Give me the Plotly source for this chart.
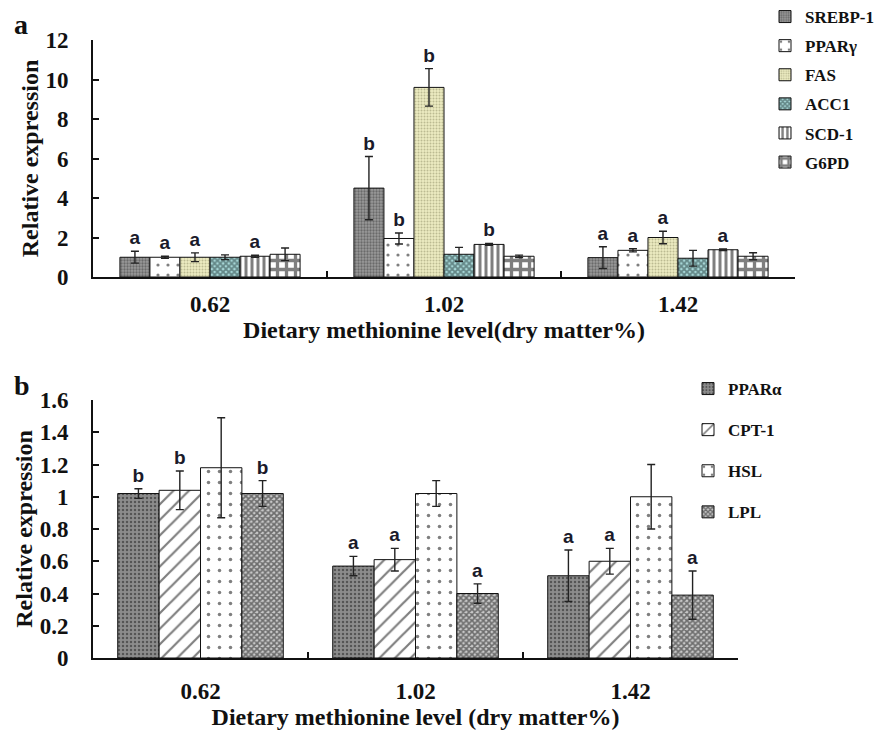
import plotly.graph_objects as go
from plotly.subplots import make_subplots

# ---------------- data ----------------
levels = ["0.62", "1.02", "1.42"]

# panel a
a_genes = ["SREBP-1", "PPARγ", "FAS", "ACC1", "SCD-1", "G6PD"]
a_means = {
    "SREBP-1": [1.0, 4.5, 0.98],
    "PPARγ":   [1.0, 1.95, 1.35],
    "FAS":     [1.0, 9.6, 2.0],
    "ACC1":    [1.0, 1.15, 0.95],
    "SCD-1":   [1.05, 1.65, 1.38],
    "G6PD":    [1.15, 1.05, 1.05],
}
a_errs = {
    "SREBP-1": [0.3, 1.6, 0.55],
    "PPARγ":   [0.05, 0.28, 0.08],
    "FAS":     [0.22, 0.95, 0.32],
    "ACC1":    [0.12, 0.35, 0.4],
    "SCD-1":   [0.05, 0.05, 0.04],
    "G6PD":    [0.32, 0.06, 0.18],
}
a_letters = {
    "SREBP-1": ["a", "b", "a"],
    "PPARγ":   ["a", "b", "a"],
    "FAS":     ["a", "b", "a"],
    "ACC1":    ["", "", ""],
    "SCD-1":   ["a", "b", "a"],
    "G6PD":    ["", "", ""],
}

# panel b
b_genes = ["PPARα", "CPT-1", "HSL", "LPL"]
b_means = {
    "PPARα": [1.02, 0.57, 0.51],
    "CPT-1": [1.04, 0.61, 0.60],
    "HSL":   [1.18, 1.02, 1.00],
    "LPL":   [1.02, 0.40, 0.39],
}
b_errs = {
    "PPARα": [0.03, 0.06, 0.16],
    "CPT-1": [0.12, 0.07, 0.08],
    "HSL":   [0.31, 0.08, 0.20],
    "LPL":   [0.08, 0.06, 0.15],
}
b_letters = {
    "PPARα": ["b", "a", "a"],
    "CPT-1": ["b", "a", "a"],
    "HSL":   ["", "", ""],
    "LPL":   ["b", "a", "a"],
}

# ---------------- styles ----------------
a_style = {
    "SREBP-1": dict(bgcolor="#9a9a9a", fgcolor="#3a3a3a", shape=".", size=3, solidity=0.45),
    "PPARγ":   dict(bgcolor="#ffffff", fgcolor="#000000", shape=".", size=10, solidity=0.08),
    "FAS":     dict(bgcolor="#ecebc2", fgcolor="#8c8b62", shape=".", size=3, solidity=0.35),
    "ACC1":    dict(bgcolor="#a8d8d8", fgcolor="#1f3636", shape="x", size=4, solidity=0.7),
    "SCD-1":   dict(bgcolor="#ffffff", fgcolor="#000000", shape="|", size=6, solidity=0.5),
    "G6PD":    dict(bgcolor="#ffffff", fgcolor="#000000", shape="+", size=9, solidity=0.6),
}
b_style = {
    "PPARα": dict(bgcolor="#8c8c8c", fgcolor="#1e1e1e", shape=".", size=4, solidity=0.3),
    "CPT-1": dict(bgcolor="#ffffff", fgcolor="#000000", shape="/", size=11, solidity=0.2),
    "HSL":   dict(bgcolor="#ffffff", fgcolor="#000000", shape=".", size=11, solidity=0.08),
    "LPL":   dict(bgcolor="#c8c8c8", fgcolor="#111111", shape="x", size=4, solidity=0.65),
}

SERIF = "Liberation Serif"
W, H = 888, 739
S = 8  # page body margin compensation

fig = make_subplots(rows=2, cols=1)

def add_panel(genes, means, errs, letters, styles, row, legend_name):
    for g in genes:
        st = styles[g]
        fig.add_trace(go.Bar(
            x=levels, y=means[g], name=g,
            offsetgroup=g, alignmentgroup="ag%d" % row,
            marker=dict(color=st["bgcolor"], line=dict(color="#111", width=1),
                        pattern=dict(shape=st["shape"], fgcolor=st["fgcolor"],
                                     bgcolor=st["bgcolor"], size=st["size"],
                                     solidity=st["solidity"], fillmode="overlay")),
            error_y=dict(type="data", array=errs[g], color="#222", thickness=1.4, width=4),
            legend=legend_name, legendgroup=g,
        ), row=row, col=1)
    for g in genes:
        tops = [m + e for m, e in zip(means[g], errs[g])]
        fig.add_trace(go.Bar(
            x=levels, y=tops, text=letters[g], textposition="outside",
            textfont=dict(family="Liberation Sans, Arial", size=19, color="#1a1a2a", weight="bold"),
            constraintext="none", cliponaxis=False,
            offsetgroup=g, alignmentgroup="ag%d" % row,
            marker=dict(color="rgba(0,0,0,0)", line=dict(width=0)),
            showlegend=False, hoverinfo="skip",
        ), row=row, col=1)

add_panel(a_genes, a_means, a_errs, a_letters, a_style, 1, "legend")
add_panel(b_genes, b_means, b_errs, b_letters, b_style, 2, "legend2")

axis_font = dict(family=SERIF, size=23, color="#111", weight="bold")
title_font = dict(family=SERIF, size=24, color="#111", weight="bold")
legend_font = dict(family=SERIF, size=17, color="#111", weight="bold")

fig.update_layout(
    width=W, height=H, autosize=False,
    margin=dict(l=0, r=0, t=0, b=0, autoexpand=False),
    paper_bgcolor="white", plot_bgcolor="white",
    barmode="group", bargap=0.23, bargroupgap=0,
    xaxis=dict(domain=[(93 - S) / W, (795 - S) / W]),
    xaxis2=dict(domain=[(93 - S) / W, (738 - S) / W]),
    yaxis=dict(domain=[1 - (277 - S) / H, 1 - (40 - S) / H], range=[0, 12], dtick=2),
    yaxis2=dict(domain=[1 - (658 - S) / H, 1 - (400 - S) / H], range=[0, 1.6], dtick=0.2),
    legend=dict(x=757 / W, y=1 + 9 / H, xanchor="left", yanchor="top",
                font=legend_font, itemwidth=30, tracegroupgap=4,
                bgcolor="rgba(0,0,0,0)"),
    legend2=dict(x=680 / W, y=1 - 363 / H, xanchor="left", yanchor="top",
                 font=legend_font, itemwidth=30, tracegroupgap=16,
                 bgcolor="rgba(0,0,0,0)"),
    showlegend=True,
)

for ax, sto in [("xaxis", 5), ("xaxis2", 11)]:
    fig.layout[ax].update(type="category", showline=True, linecolor="#111", linewidth=2,
                          ticks="inside", tickson="boundaries", ticklen=6, tickcolor="#111",
                          tickwidth=2, tickfont=axis_font, showgrid=False, zeroline=False,
                          ticklabelstandoff=sto)
for ax in ["yaxis", "yaxis2"]:
    fig.layout[ax].update(showline=True, linecolor="#111", linewidth=2,
                          ticks="inside", ticklen=6, tickcolor="#111", tickwidth=2,
                          tickfont=axis_font, showgrid=False, zeroline=False,
                          ticklabelstandoff=18,
                          title=dict(text="Relative expression", font=title_font, standoff=0))
fig.layout.xaxis.title = dict(text="Dietary methionine level(dry matter%)", font=title_font, standoff=2)
fig.layout.xaxis2.title = dict(text="Dietary methionine level (dry matter%)", font=title_font, standoff=6)

fig.add_annotation(text="a", x=(12 - S) / W, y=1 - (25 - S) / H, xref="paper", yref="paper",
                   xanchor="left", yanchor="middle", showarrow=False,
                   font=dict(family=SERIF, size=28, color="#111", weight="bold"))
fig.add_annotation(text="b", x=(12 - S) / W, y=1 - (385 - S) / H, xref="paper", yref="paper",
                   xanchor="left", yanchor="middle", showarrow=False,
                   font=dict(family=SERIF, size=28, color="#111", weight="bold"))

fig.write_html("out.html")
